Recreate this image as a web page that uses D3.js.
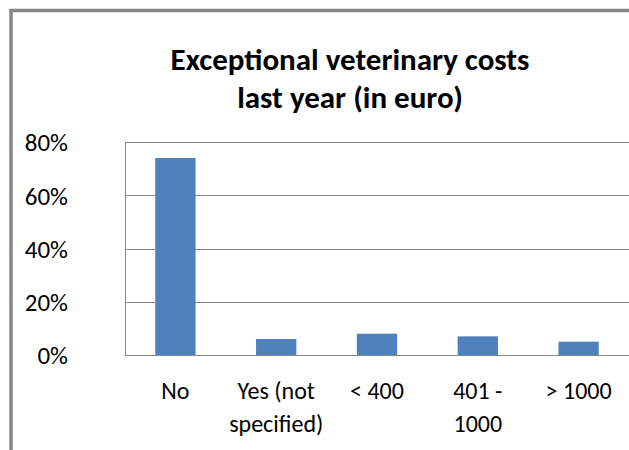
<!DOCTYPE html>
<html>
<head>
<meta charset="utf-8">
<script src="https://cdn.jsdelivr.net/npm/d3@7"></script>
<style>
  body { margin: 0; background: #fff; overflow: hidden; }
  svg { display: block; }
  text { font-family: Carlito, Calibri, Lato, "Open Sans", sans-serif; fill: #000; }
</style>
</head>
<body>
<svg id="chart"></svg>
<script>
// Data
const categories = ['No', 'Yes (not specified)', '< 400', '401 - 1000', '> 1000'];
const shares = [0.74, 0.06, 0.08, 0.07, 0.05];
const yTicks = [0, 0.2, 0.4, 0.6, 0.8];
const titleLines = ['Exceptional veterinary costs', 'last year (in euro)'];

// Size
const width = 629;
const height = 450;
const plot = { left: 125, right: 629, top: 142, bottom: 355 };

const svg = d3.select('#chart')
  .attr('width', width)
  .attr('height', height);

// Frame (only top and left edges are visible)
svg.append('path')
  .attr('d', `M11,${height} V10.5 H${width + 5}`)
  .attr('fill', 'none')
  .attr('stroke', '#878787')
  .attr('stroke-width', 3.5);

// Title
svg.append('text')
  .attr('text-anchor', 'middle')
  .attr('font-weight', 'bold')
  .attr('font-size', 31)
  .selectAll('tspan')
  .data(titleLines)
  .enter()
  .append('tspan')
  .attr('x', 350)
  .attr('y', function (d, i) { return 70 + i * 38; })
  .text(function (d) { return d; });

// Scales
const x = d3.scaleBand()
  .domain(categories)
  .range([plot.left, plot.right])
  .paddingInner(0.6)
  .paddingOuter(0.3);

const y = d3.scaleLinear()
  .domain([0, 0.8])
  .range([plot.bottom, plot.top]);

// Gridlines
const grid = svg.append('g')
  .attr('transform', `translate(${plot.left},0)`)
  .call(d3.axisLeft(y).tickValues(yTicks).tickSize(-(plot.right - plot.left)).tickFormat(''));
grid.selectAll('line').attr('stroke', '#868686').attr('shape-rendering', 'crispEdges');
grid.select('.domain').remove();

// Left axis line
svg.append('line')
  .attr('x1', plot.left + 0.5).attr('x2', plot.left + 0.5)
  .attr('y1', plot.top).attr('y2', plot.bottom)
  .attr('stroke', '#868686');

// Y labels
const yAxis = svg.append('g')
  .attr('transform', 'translate(68,0)')
  .call(d3.axisLeft(y).tickValues(yTicks).tickSize(0).tickFormat(d3.format('.0%')));
yAxis.attr('font-family', null);
yAxis.select('.domain').remove();
yAxis.selectAll('text')
  .attr('font-size', 25)
  .attr('dy', '0.35em')
  .attr('x', 0);

// Bars
svg.append('g')
  .selectAll('rect')
  .data(shares)
  .enter()
  .append('rect')
  .attr('x', function (d, i) { return x(categories[i]); })
  .attr('width', x.bandwidth())
  .attr('y', function (d) { return y(d); })
  .attr('height', function (d) { return y(0) - y(d); })
  .attr('fill', '#4F81BD');

// X labels, wrapped to the band
const xAxis = svg.append('g')
  .attr('transform', `translate(0,${plot.bottom})`)
  .call(d3.axisBottom(x).tickSize(0).tickPadding(0));
xAxis.attr('font-family', null);
xAxis.select('.domain')
  .attr('stroke', '#868686')
  .attr('d', `M${plot.left},0.5H${plot.right}`);
xAxis.selectAll('text')
  .attr('font-size', 24)
  .attr('dy', null)
  .each(function (d) {
    const t = d3.select(this);
    const words = d.split(' ');
    t.text(null);
    let line = [];
    let lines = [];
    const probe = t.append('tspan');
    words.forEach(function (w) {
      const test = line.concat([w]).join(' ');
      probe.text(test);
      if (probe.node().getComputedTextLength() > 98 && line.length) {
        lines.push(line.join(' '));
        line = [w];
      } else {
        line.push(w);
      }
    });
    lines.push(line.join(' '));
    probe.remove();
    t.selectAll('tspan')
      .data(lines)
      .enter()
      .append('tspan')
      .attr('x', 0)
      .attr('y', function (l, i) { return 44 + i * 33; })
      .text(function (l) { return l; });
  });
</script>
</body>
</html>
